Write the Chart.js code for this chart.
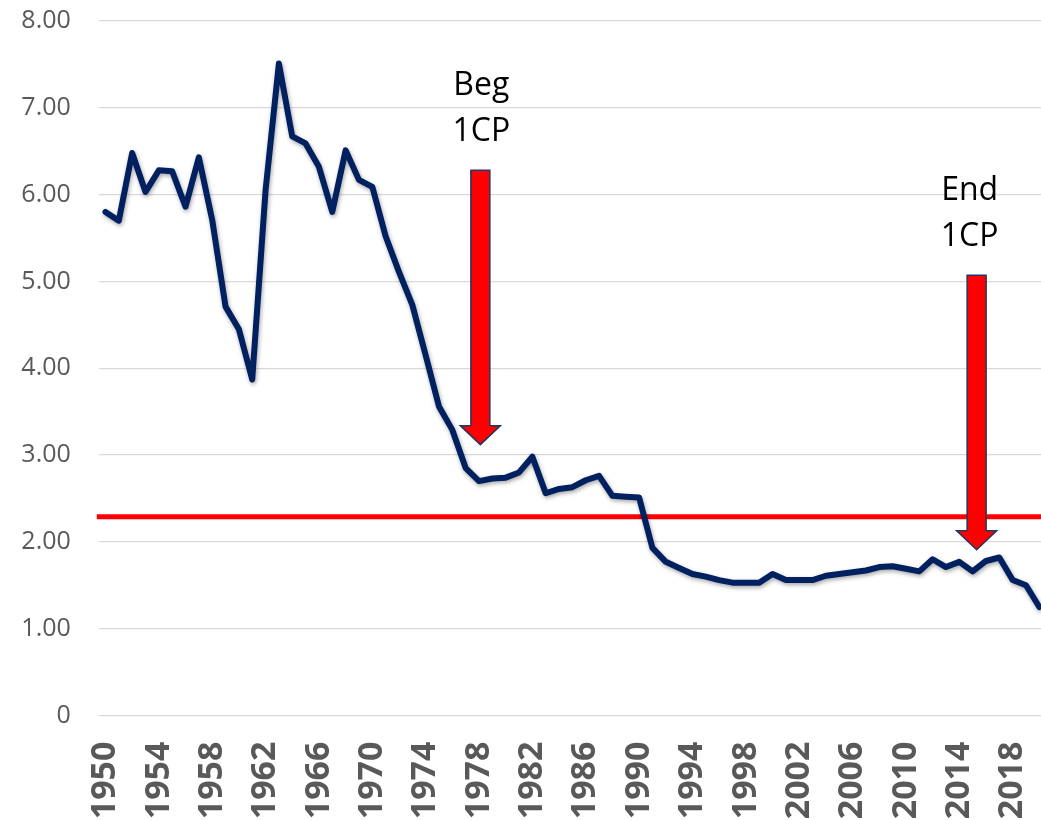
<!DOCTYPE html>
<html>
<head>
<meta charset="utf-8">
<script src="https://cdn.jsdelivr.net/npm/chart.js"></script>
<style>
  html, body { margin: 0; padding: 0; background: #fff; overflow: hidden; }
  #wrap { position: absolute; left: 0; top: 0; width: 1047px; height: 830px; }
</style>
</head>
<body>
<div id="wrap"><canvas id="Grafica1"></canvas></div>
<script>
// years shown on the category axis
const years = [];
for (let y = 1950; y <= 2020; y++) years.push(y);

// values, one per year 1950..2020
const rate = [
	5.80, 5.70, 6.48, 6.03, 6.28, 6.27, 5.86, 6.43, 5.71, 4.71,
	4.45, 3.87, 6.05, 7.51, 6.67, 6.59, 6.32, 5.80, 6.51, 6.17,
	6.09, 5.52, 5.11, 4.73, 4.15, 3.56, 3.29, 2.85, 2.70, 2.73,
	2.74, 2.80, 2.98, 2.56, 2.61, 2.63, 2.71, 2.76, 2.53, 2.52,
	2.51, 1.93, 1.77, 1.70, 1.63, 1.60, 1.56, 1.53, 1.53, 1.53,
	1.63, 1.56, 1.56, 1.56, 1.61, 1.63, 1.65, 1.67, 1.71, 1.72,
	1.69, 1.66, 1.80, 1.71, 1.77, 1.66, 1.78, 1.82, 1.56, 1.50,
	1.25
];

// horizontal reference level
const refLevel = 2.29;

// arrows: position on the year axis, top and tip values, text above
const arrowYear = [1978.1, 2015.3];
const arrowTop = [6.28, 5.07];
const arrowTip = [3.12, 1.91];
const arrowText = [["Beg", "1CP"], ["End", "1CP"]];

const ctx = document.getElementById("Grafica1").getContext("2d");

const lineShadow = {
	id: "lineShadow",
	beforeDatasetDraw(chart, args) {
		if (args.index !== 0) return;
		const c = chart.ctx;
		c.save();
		c.shadowColor = "rgba(0, 0, 0, 0.35)";
		c.shadowBlur = 4;
		c.shadowOffsetX = 1;
		c.shadowOffsetY = 2;
	},
	afterDatasetDraw(chart, args) {
		if (args.index !== 0) return;
		chart.ctx.restore();
	}
};

const refLine = {
	id: "refLine",
	beforeDatasetsDraw(chart) {
		const { ctx, chartArea, scales } = chart;
		const y = scales.y.getPixelForValue(refLevel);
		ctx.save();
		ctx.strokeStyle = "#ff0000";
		ctx.lineWidth = 5;
		ctx.beginPath();
		ctx.moveTo(chartArea.left - 2, y);
		ctx.lineTo(chartArea.right, y);
		ctx.stroke();
		ctx.restore();
	}
};

const arrows = {
	id: "arrows",
	afterDatasetsDraw(chart) {
		const { ctx, scales } = chart;
		const textShift = [1, -7];
		arrowYear.forEach((yr, i) => {
			const x = scales.x.getPixelForValue(yr - years[0]);
			const top = scales.y.getPixelForValue(arrowTop[i]);
			const tip = scales.y.getPixelForValue(arrowTip[i]);
			const sw = 9.5, hw = 20, hl = 19;
			ctx.save();
			ctx.beginPath();
			ctx.moveTo(x - sw, top);
			ctx.lineTo(x + sw, top);
			ctx.lineTo(x + sw, tip - hl);
			ctx.lineTo(x + hw, tip - hl);
			ctx.lineTo(x, tip);
			ctx.lineTo(x - hw, tip - hl);
			ctx.lineTo(x - sw, tip - hl);
			ctx.closePath();
			ctx.fillStyle = "#ff0000";
			ctx.fill();
			ctx.strokeStyle = "#203864";
			ctx.lineWidth = 1.5;
			ctx.stroke();

			ctx.fillStyle = "#000000";
			ctx.font = '32px "Open Sans"';
			ctx.textAlign = "center";
			ctx.textBaseline = "alphabetic";
			const lines = arrowText[i];
			lines.forEach((t, j) => {
				const base = top - 29 - 46.7 * (lines.length - 1 - j);
				ctx.fillText(t, x + textShift[i], base);
			});
			ctx.restore();
		});
	}
};

let Grafica1 = new Chart(ctx, {
	type: "line",
	data: {
		labels: years,
		datasets: [{
			label: "Rate",
			data: rate,
			borderColor: "#002060",
			backgroundColor: "#002060",
			borderWidth: 6,
			pointRadius: 0,
			tension: 0,
			borderJoinStyle: "round",
			borderCapStyle: "round",
		}],
	},
	options: {
		responsive: true,
		maintainAspectRatio: false,
		animation: false,
		layout: { padding: { top: 21, right: 1, left: 0, bottom: 0 } },
		plugins: {
			legend: { display: false },
			tooltip: { enabled: false },
		},
		scales: {
			y: {
				min: 0,
				max: 8,
				afterFit(scale) {
					scale.width = 98.8;
					scale.paddingTop = 0;
					scale.paddingBottom = 0;
				},
				border: { display: false },
				grid: {
					drawTicks: false,
					color: "#d9d9d9",
					lineWidth: 1.3
				},
				ticks: {
					stepSize: 1,
					padding: 28,
					color: "#595959",
					font: { size: 25, family: "Open Sans" },
					callback: (v) => v === 0 ? "0" : v.toFixed(2)
				}
			},
			x: {
				offset: true,
				afterFit(scale) {
					scale.height = 114.5;
					scale.paddingLeft = 0;
					scale.paddingRight = 0;
				},
				border: { display: false },
				grid: { display: false, drawTicks: false },
				ticks: {
					autoSkip: false,
					minRotation: 90,
					maxRotation: 90,
					padding: 26,
					color: "#595959",
					font: { size: 34, weight: "bold", family: "Open Sans" },
					callback: function (v, i) {
						return i % 4 === 0 ? this.getLabelForValue(v) : "";
					}
				}
			}
		}
	},
	plugins: [lineShadow, refLine, arrows]
});
</script>
</body>
</html>
